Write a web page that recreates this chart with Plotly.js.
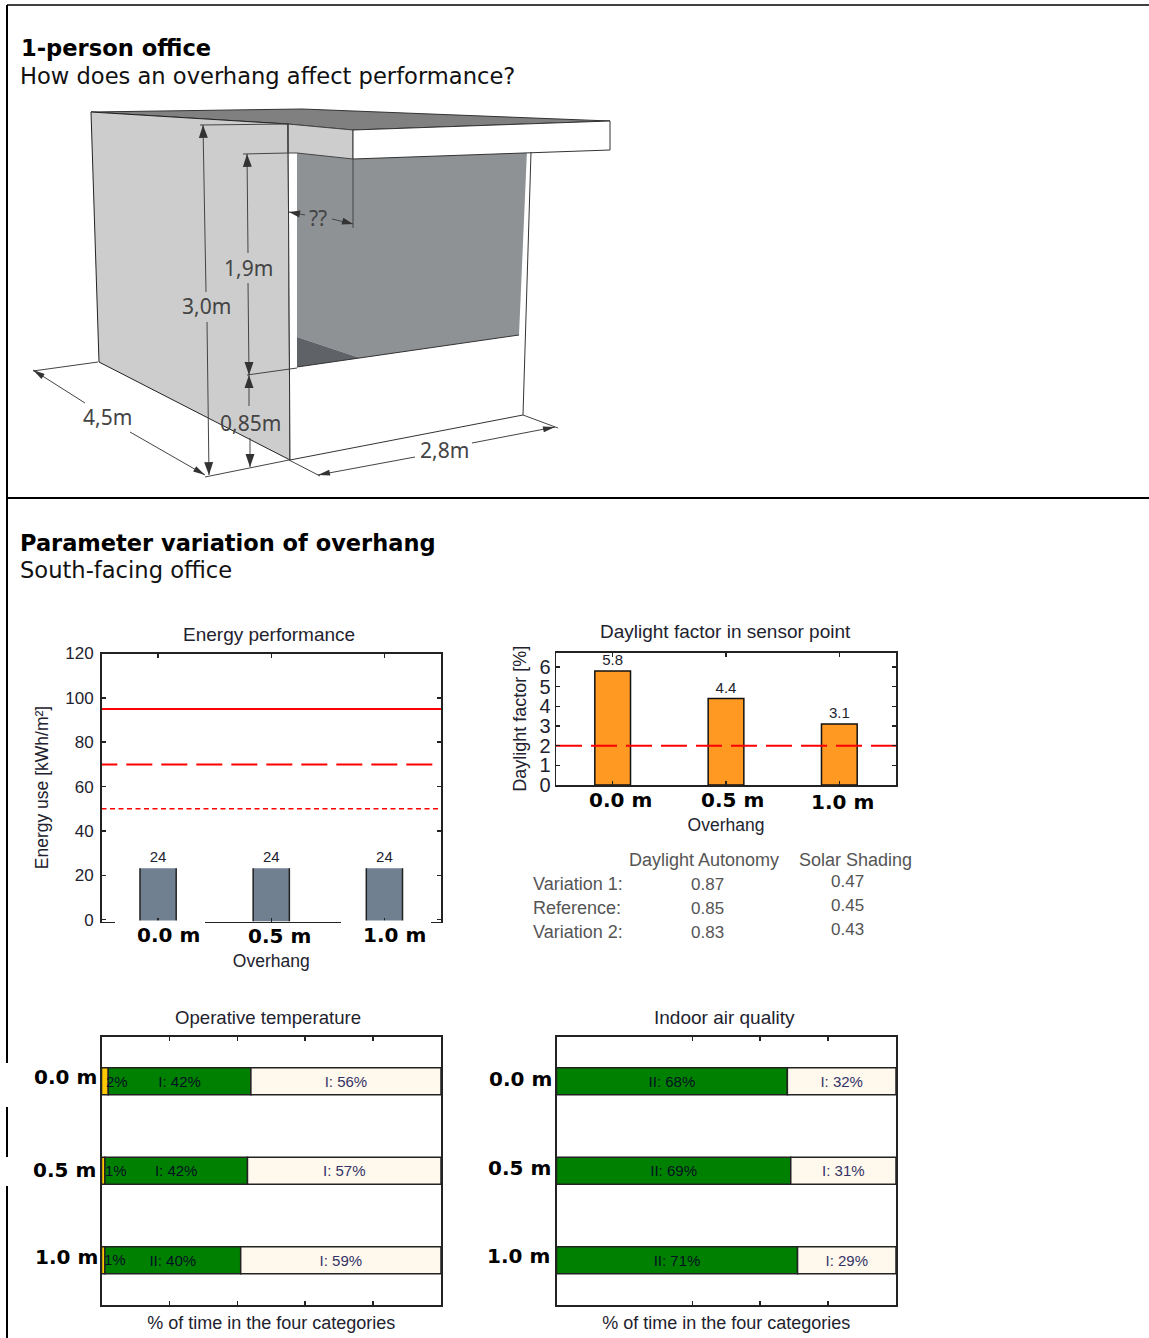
<!DOCTYPE html>
<html><head><meta charset="utf-8">
<script src="https://cdn.plot.ly/plotly-3.0.1.min.js"></script>
<style>html,body{margin:0;padding:0;background:#fff}</style></head>
<body><div id="chart" style="width:1149px;height:1338px"></div>
<script>
// ---- data ----
const overhangs = ['0.0 m','0.5 m','1.0 m'];
const energyUse = [24,24,24];
const energyLimits = [95,70,50];
const daylightFactor = [5.8,4.4,3.1];
const daylightLimit = 2;
const opTempIII = [2,1,1];
const opTempII = [42,42,40];
const opTempI = [56,57,59];
const opTempIIILabels = ['2%','1%','1%'];
const opTempIILabels = ['I: 42%','I: 42%','II: 40%'];
const opTempILabels = ['I: 56%','I: 57%','I: 59%'];
const iaqII = [68,69,71];
const iaqI = [32,31,29];
const iaqIILabels = ['II: 68%','II: 69%','II: 71%'];
const iaqILabels = ['I: 32%','I: 31%','I: 29%'];
const tableRows = ['Variation 1:','Reference:','Variation 2:'];
const daylightAutonomy = ['0.87','0.85','0.83'];
const solarShading = ['0.47','0.45','0.43'];

// ---- helpers ----
const W=1149,H=1338;
const px=x=>x/W, py=y=>1-y/H;
const dom=(a,b)=>[px(a),px(b)];
const domY=(t,b)=>[py(b),py(t)];
const SANS='"Liberation Sans", Arial, sans-serif', VERD='"DejaVu Sans", Verdana, sans-serif', DIM='"Noto Sans", sans-serif';
const INK='#22222e';
const shapes=[],annotations=[];
function label(text,x,y,size,o={}){annotations.push({text,xref:'paper',yref:'paper',x:px(x),y:py(y),showarrow:false,
  xanchor:o.a||'center',yanchor:'middle',borderpad:0,borderwidth:0,textangle:o.rot||0,
  font:{family:o.f||SANS,size,color:o.c||INK,weight:o.b?700:400}});}
function poly(pts,fill,line,lw){shapes.push({type:'path',xref:'paper',yref:'paper',layer:'above',
  path:'M'+pts.map(p=>px(p[0])+','+py(p[1])).join(' L')+' Z',fillcolor:fill,line:{color:line||fill,width:line?(lw||1):0}});}
function seg(x0,y0,x1,y1,c,w){shapes.push({type:'line',xref:'paper',yref:'paper',layer:'above',x0:px(x0),y0:py(y0),x1:px(x1),y1:py(y1),line:{color:c||'#444',width:w||1}});}
function rect(x0,y0,x1,y1,c){shapes.push({type:'rect',xref:'paper',yref:'paper',layer:'above',x0:px(x0),y0:py(y0),x1:px(x1),y1:py(y1),fillcolor:c,line:{width:0}});}
function arrow(tx,ty,fx,fy,len=13,hw=4.5){const d=Math.hypot(fx-tx,fy-ty),ux=(fx-tx)/d,uy=(fy-ty)/d;
  const bx=tx+ux*len,by=ty+uy*len;poly([[tx,ty],[bx-uy*hw,by+ux*hw],[bx+uy*hw,by-ux*hw]],'#333');}

// ---- page frame ----
seg(7,5,1149,5,'#000',1.5); seg(7,498,1149,498,'#000',2);
[[5,1063],[1107,1157],[1186,1338]].forEach(s=>seg(7,s[0],7,s[1],'#000',2));
label('1-person office',21,48,22.6,{a:'left',f:VERD,b:1,c:'#000'});
label('How does an overhang affect performance?',20,76,22.6,{a:'left',f:VERD,c:'#111'});
label('Parameter variation of overhang',20,543,22.5,{a:'left',f:VERD,b:1,c:'#000'});
label('South-facing office',20,570,22.6,{a:'left',f:VERD,c:'#111'});

// ---- office sketch ----
const G='#cdcdcd';
poly([[91,112],[302,109],[610,121],[353,130],[288,124]],'#808080','#333');
poly([[91,112],[288,124],[290,460],[99,362]],G,'#222');
poly([[288,153],[297,153],[297,367],[519,335],[527,152],[531,152],[523,415],[290,460]],'#fff');
poly([[297,150],[527,150],[519,335],[360,358],[297,337]],'#8e9295');
poly([[297,337],[360,358],[297,367]],'#5f6266');
poly([[288,124],[353,130],[353,159],[297,153],[288,153]],G,'#444');
poly([[353,130],[610,121],[610,150],[353,159]],'#fff','#333');
seg(531,152,523,415,'#333'); seg(290,460,523,415,'#333'); seg(297,367,519,335,'#333'); seg(288,124,290,460,'#333');
// dimension lines
const D='#444';
seg(203,125,206,292,D);seg(207,322,209,475,D);seg(200,125,289,124,D);
seg(247,154,248,253,D);seg(248,283,249,375,D);seg(243,154,288,153,D);seg(247,375,297,368,D);
seg(249,375,249,406,D);seg(250,438,250,467,D);
seg(33,370,85,403,D);seg(130,432,205,475,D);seg(33,371,98,362,D);seg(205,477,289,460,D);
seg(318,475,415,457,D);seg(472,443,555,427,D);seg(289,460,320,476,D);seg(523,415,558,428,D);
seg(289,212,305,215,D);seg(332,219,353,224,D);seg(353,159,353,228,D);
arrow(203,125,204,160);arrow(209,475,208,440);arrow(247,154,248,190);arrow(249,375,249,340);
arrow(249,375,249,410);arrow(250,467,250,432);arrow(33,370,50,381,12,3);arrow(205,475,188,465,12,3);
arrow(318,475,338,471,12,3);arrow(555,427,535,431,12,3);arrow(289,212,300,214,11,3.5);arrow(353,224,342,221,11,3.5);
label('3,0m',206,306,21,{f:DIM,c:'#444'});label('1,9m',248,268,21,{f:DIM,c:'#444'});
label('0,85m',250,423,21,{f:DIM,c:'#444'});label('4,5m',107,417,21,{f:DIM,c:'#444'});
label('2,8m',444,450,21,{f:DIM,c:'#444'});label('??',318,218,21,{f:DIM,c:'#444'});

// ---- subplots ----
const axLine={showline:true,linecolor:'#222',linewidth:1.5,mirror:'ticks',ticks:'inside',ticklen:4,tickcolor:'#222',tickwidth:1.5,showgrid:false,zeroline:false,automargin:false};
const axT=(text,size,standoff)=>({text,font:{family:SANS,size,color:INK},standoff});
const ORANGE='#ff9922',SLATE='#708090',GREEN='#008000',CREAM='#fff8ec',YEL='#ffc800';
const traces=[];
const hline=(xa,ya,y,dash,w,start)=>({type:'scatter',mode:'lines',xaxis:xa,yaxis:ya,x:[start,2.5],y:[y,y],line:{color:'#ff0000',width:w,dash},hoverinfo:'skip'});
traces.push({type:'bar',xaxis:'x',yaxis:'y',x:[0,1,2],y:energyUse,base:-0.8,width:0.32,marker:{color:SLATE,line:{width:0}},
  text:energyUse.map(String),textposition:'outside',cliponaxis:false,textfont:{family:SANS,size:15,color:INK}});
energyLimits.forEach((v,i)=>traces.push(hline('x','y',v,['solid','26px,9px','5px,3.5px'][i],i===2?1.5:2,i===1?-0.59:-0.5)));
traces.push({type:'bar',xaxis:'x2',yaxis:'y2',x:[0,1,2],y:daylightFactor,width:0.315,marker:{color:ORANGE,line:{color:'#111',width:1.5}},
  text:daylightFactor.map(String),textposition:'outside',cliponaxis:false,textfont:{family:SANS,size:15,color:INK}});
traces.push(hline('x2','y2',daylightLimit,'26px,9px',2,-0.5));
const stack=(xa,ya,vals,base,color,txt,tc)=>({type:'bar',orientation:'h',xaxis:xa,yaxis:ya,y:[0,1,2],x:vals,base,width:0.3,marker:{color,line:{color:'#222',width:1.5}},
  text:txt||vals.map(()=>''),textposition:'inside',insidetextanchor:'middle',constraintext:'none',textangle:0,textfont:{family:SANS,size:15,color:tc||'#012'}});
const sum=(a,b)=>a.map((v,i)=>v+b[i]);
const zero=[0,0,0];
traces.push(stack('x3','y3',opTempIII,zero,YEL));
traces.push(stack('x3','y3',opTempII,opTempIII,GREEN,opTempIILabels,'#012'));
traces.push(stack('x3','y3',opTempI,sum(opTempIII,opTempII),CREAM,opTempILabels,'#336'));
traces.push(stack('x4','y4',iaqII,zero,GREEN,iaqIILabels,'#012'));
traces.push(stack('x4','y4',iaqI,iaqII,CREAM,iaqILabels,'#336'));

// dark bar sides of the energy bars, taken from the values
energyUse.forEach((v,i)=>[-0.16,0.16].forEach(d=>shapes.push({type:'line',xref:'x',yref:'y',layer:'above',x0:i+d,x1:i+d,y0:-0.8,y1:v-0.8,line:{color:'#222',width:1.5}})));

// gaps left by the pasted labels on the energy axis
rect(115,920.5,205,923.5,'#fff');rect(341,920.5,431,923.5,'#fff');

const catX={type:'linear',range:[-0.5,2.5],tickvals:[0,1,2],showticklabels:false};
const layout={width:W,height:H,margin:{l:0,r:0,t:0,b:0},paper_bgcolor:'#fff',plot_bgcolor:'#fff',showlegend:false,barmode:'overlay',
 xaxis:{...axLine,...catX,domain:dom(101.5,441),anchor:'y',title:axT('Overhang',17.5,32)},
 yaxis:{...axLine,domain:domY(653.5,921.5),anchor:'x',range:[-0.8,120],tickvals:[0,20,40,60,80,100,120],ticklabelstandoff:3,tickfont:{family:SANS,size:17,color:INK},
   title:axT('Energy use [kWh/m²]',17.5,12)},
 xaxis2:{...axLine,...catX,domain:dom(556,896),anchor:'y2',title:axT('Overhang',17.5,33)},
 yaxis2:{...axLine,domain:domY(652.5,785),anchor:'x2',range:[0,6.74],tickvals:[0,1,2,3,4,5,6],tickfont:{family:SANS,size:20,color:INK},
   title:axT('Daylight factor [%]',18,8)},
 xaxis3:{...axLine,domain:dom(101.5,441),anchor:'y3',range:[0,100],tickvals:[20,40,60,80],showticklabels:false,title:axT('% of time in the four categories',18,11)},
 yaxis3:{...axLine,ticks:'',domain:domY(1036.5,1305),anchor:'x3',range:[2.5,-0.5],tickvals:[0,1,2],showticklabels:false},
 xaxis4:{...axLine,domain:dom(556.5,896),anchor:'y4',range:[0,100],tickvals:[40,60,80],showticklabels:false,title:axT('% of time in the four categories',18,11)},
 yaxis4:{...axLine,ticks:'',domain:domY(1036.5,1305),anchor:'x4',range:[2.5,-0.5],tickvals:[0,1,2],showticklabels:false},
 shapes,annotations};

// panel titles
label('Energy performance',269,634,19);label('Daylight factor in sensor point',725,631,19);
label('Operative temperature',268,1017,18.6);label('Indoor air quality',724,1017,19);

// bold category labels, as pasted beside the charts
const C='#000';
[[168,935],[279,936],[394,935]].forEach((p,i)=>label(overhangs[i],p[0],p[1],20,{f:VERD,b:1,c:C}));
[[620,800],[732,800],[842,802]].forEach((p,i)=>label(overhangs[i],p[0],p[1],20,{f:VERD,b:1,c:C}));
[[97,1077],[96,1170],[98,1257]].forEach((p,i)=>label(overhangs[i],p[0],p[1],20,{f:VERD,b:1,c:C,a:'right'}));
[[552,1079],[551,1168],[550,1256]].forEach((p,i)=>label(overhangs[i],p[0],p[1],20,{f:VERD,b:1,c:C,a:'right'}));
// narrow category III labels
[[117,1081],[116,1170],[115,1259]].forEach((p,i)=>label(opTempIIILabels[i],p[0],p[1],15,{c:'#012'}));

// small table
const TC='#555';
label('Daylight Autonomy',704,860,18,{c:TC});label('Solar Shading',855,860,18,{c:TC});
tableRows.forEach((r,i)=>{label(r,533,884+24*i,18,{a:'left',c:TC});
  label(daylightAutonomy[i],707,884+24*i,17,{c:TC});label(solarShading[i],848,881+24*i,17,{c:TC});});

Plotly.newPlot('chart',traces,layout,{displayModeBar:false,staticPlot:true});
</script></body></html>
